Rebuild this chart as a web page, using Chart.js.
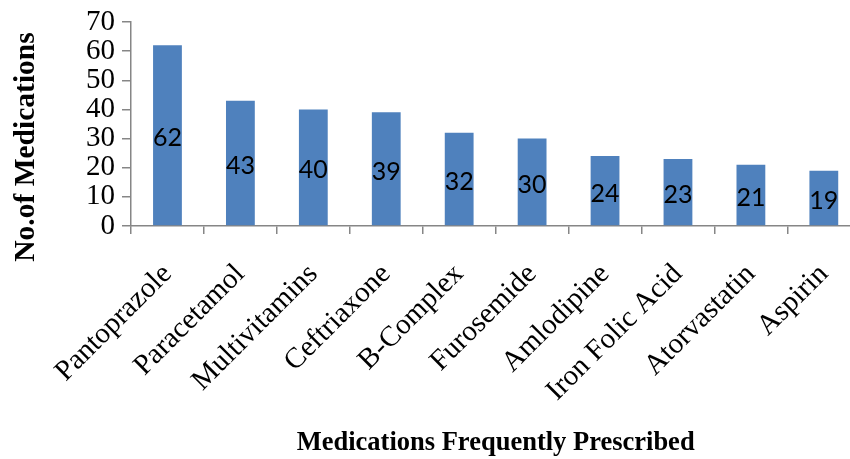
<!DOCTYPE html>
<html>
<head>
<meta charset="utf-8">
<script src="https://cdn.jsdelivr.net/npm/chart.js@4.4.1/dist/chart.umd.min.js"></script>
<style>
  html, body { margin: 0; padding: 0; background: #ffffff; overflow: hidden; }
  #wrap { position: relative; width: 866px; height: 459px; }
</style>
</head>
<body>
<div id="wrap"><canvas id="chart"></canvas></div>
<script>
// Most frequently prescribed medications and their counts
const medications = ['Pantoprazole', 'Paracetamol', 'Multivitamins', 'Ceftriaxone', 'B-Complex',
                     'Furosemide', 'Amlodipine', 'Iron Folic Acid', 'Atorvastatin', 'Aspirin'];
const counts = [62, 43, 40, 39, 32, 30, 24, 23, 21, 19];
const yTicks = [0, 10, 20, 30, 40, 50, 60, 70];
const yTitle = 'No.of Medications';
const xTitle = 'Medications Frequently Prescribed';

const serif = "'Liberation Serif', 'Times New Roman', serif";
const axisGrey = '#868686';

// Value labels centred in each bar
const barValueLabels = {
  id: 'barValueLabels',
  afterDatasetsDraw(chart) {
    const ctx = chart.ctx;
    const meta = chart.getDatasetMeta(0);
    ctx.save();
    ctx.font = "25px Lato, 'Open Sans', sans-serif";
    ctx.fillStyle = '#000000';
    ctx.textAlign = 'center';
    ctx.textBaseline = 'middle';
    meta.data.forEach((bar, i) => {
      const v = chart.data.datasets[0].data[i];
      ctx.fillText(String(v), bar.x, (bar.y + bar.base) / 2 + 3);
    });
    ctx.restore();
  }
};

// Vertical axis title
const yAxisTitle = {
  id: 'yAxisTitle',
  afterDraw(chart) {
    const ctx = chart.ctx;
    ctx.save();
    ctx.translate(26, 147);
    ctx.rotate(-Math.PI / 2);
    ctx.font = 'bold 29.5px ' + serif;
    ctx.fillStyle = '#000000';
    ctx.textAlign = 'center';
    ctx.textBaseline = 'middle';
    ctx.fillText(yTitle, 0, 0);
    ctx.restore();
  }
};

new Chart(document.getElementById('chart'), {
  type: 'bar',
  data: {
    labels: medications,
    datasets: [{
      data: counts,
      backgroundColor: '#4F81BD',
      borderWidth: 0,
      categoryPercentage: 1,
      barPercentage: 0.395
    }]
  },
  options: {
    responsive: true,
    maintainAspectRatio: false,
    animation: false,
    layout: { padding: { top: 22, right: 1, left: 0, bottom: 0 } },
    plugins: {
      legend: { display: false },
      tooltip: { enabled: false }
    },
    scales: {
      x: {
        grid: { display: true, drawOnChartArea: false, drawTicks: true, tickLength: 8, color: axisGrey, lineWidth: 1.5 },
        border: { display: true, color: axisGrey, width: 1.5 },
        ticks: {
          autoSkip: false,
          maxRotation: 45,
          minRotation: 45,
          padding: 29,
          color: '#000000',
          font: { family: serif, size: 29, lineHeight: 0.64 }
        },
        title: {
          display: true,
          text: xTitle,
          color: '#000000',
          padding: { top: 0, bottom: 0 },
          font: { family: serif, size: 26.5, weight: 'bold', lineHeight: 1.2 }
        },
        afterFit(scale) { scale.height = 233; }
      },
      y: {
        min: 0,
        max: 70,
        afterBuildTicks(scale) { scale.ticks = yTicks.map(v => ({ value: v })); },
        grid: { display: true, drawOnChartArea: false, drawTicks: true, tickLength: 9, color: axisGrey, lineWidth: 1.5 },
        border: { display: true, color: axisGrey, width: 1.5 },
        ticks: {
          autoSkip: false,
          padding: 7,
          color: '#000000',
          font: { family: serif, size: 29, lineHeight: 1 }
        },
        afterFit(scale) { scale.width = 131; }
      }
    }
  },
  plugins: [barValueLabels, yAxisTitle]
});
</script>
</body>
</html>
